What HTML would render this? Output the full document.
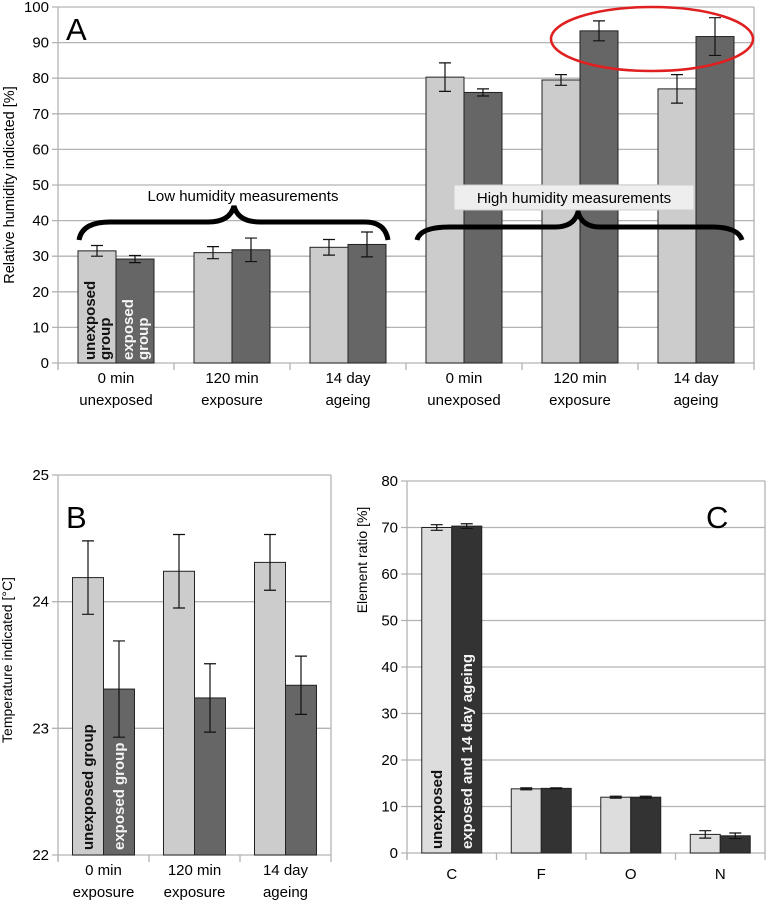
<!DOCTYPE html>
<html><head><meta charset="utf-8"><style>
html,body{margin:0;padding:0;background:#fff}
svg{display:block;font-family:"Liberation Sans",sans-serif}
</style></head><body>
<svg id="s" width="767" height="910" viewBox="0 0 767 910"></svg>
<script>
// Chart A data
const aCategories=[["0 min","unexposed"],["120 min","exposure"],["14 day","ageing"],["0 min","unexposed"],["120 min","exposure"],["14 day","ageing"]];
const aUnexposed=[31.5,31,32.5,80.3,79.5,77];
const aUnexposedErr=[1.5,1.7,2.2,4,1.5,4];
const aExposed=[29.2,31.8,33.3,76,93.3,91.7];
const aExposedErr=[1,3.3,3.5,1,2.8,5.3];
const aTicks=[0,10,20,30,40,50,60,70,80,90,100];
// Chart B data
const bCategories=[["0 min","exposure"],["120 min","exposure"],["14 day","ageing"]];
const bUnexposed=[24.19,24.24,24.31];
const bUnexposedErr=[0.29,0.29,0.22];
const bExposed=[23.31,23.24,23.34];
const bExposedErr=[0.38,0.27,0.23];
const bTicks=[22,23,24,25];
// Chart C data
const cCategories=["C","F","O","N"];
const cUnexposed=[70,13.8,12,4];
const cUnexposedErr=[0.6,0.2,0.2,0.8];
const cExposed=[70.3,13.9,12,3.7];
const cExposedErr=[0.5,0.1,0.2,0.6];
const cTicks=[0,10,20,30,40,50,60,70,80];

const NS="http://www.w3.org/2000/svg";
const svg=document.getElementById('s');
function mk(tag,attrs,parent,text){
  const e=document.createElementNS(NS,tag);
  for(const k in attrs)e.setAttribute(k,attrs[k]);
  if(text!==undefined)e.textContent=text;
  (parent||svg).appendChild(e);return e;
}
function chart(cfg){
  const g=mk('g',{});
  
  
  const y=v=>cfg.y0-(v-cfg.min)/(cfg.max-cfg.min)*(cfg.y0-cfg.y1);
  const n=cfg.cats.length, cw=(cfg.x1-cfg.x0)/n;
  cfg.ticks.forEach(t=>{
    const l=mk('line',{x1:cfg.x0-6,x2:cfg.x1,y1:y(t),y2:y(t),stroke:'#b3b3b3','stroke-width':1.3},g);
    
    
    const tx=mk('text',{x:cfg.x0-9,y:y(t)+5,'text-anchor':'end','font-size':15,fill:'#000'},g,t);
    
    
  });
  mk('line',{x1:cfg.x1,x2:cfg.x1,y1:cfg.y1,y2:cfg.y0,stroke:'#b3b3b3','stroke-width':1.3},g);
  mk('line',{x1:cfg.x0,x2:cfg.x0,y1:cfg.y1,y2:cfg.y0+6,stroke:'#b3b3b3','stroke-width':1.3},g);
  for(let i=0;i<=n;i++){
    mk('line',{x1:cfg.x0+i*cw,x2:cfg.x0+i*cw,y1:cfg.y0,y2:cfg.y0+7,stroke:'#b3b3b3','stroke-width':1.3},g);
  }
  const bw=cfg.bw;
  const series=[[cfg.s1,cfg.e1,cfg.c1,-bw],[cfg.s2,cfg.e2,cfg.c2,0]];
  cfg.cats.forEach((c,i)=>{
    const cx=cfg.x0+(i+0.5)*cw;
    series.forEach((s,k)=>{
      const v=s[0][i], e=s[1][i];
      const r=mk('rect',{x:cx+s[3],y:y(v),width:bw,height:cfg.y0-y(v),fill:s[2],stroke:'#222','stroke-width':1},g);
      
      
      const ex=cx+s[3]+bw/2;
      const eb=mk('path',{d:`M${ex},${y(v+e)}V${y(v-e)}M${ex-6},${y(v+e)}h12M${ex-6},${y(v-e)}h12`,stroke:'#111','stroke-width':1.2,fill:'none'},g);
      
      
    });
    const lines=Array.isArray(c)?c:[c];
    lines.forEach((ln,j)=>{
      const t=mk('text',{x:cx,y:cfg.y0+(lines.length>1?20:26)+j*22,'text-anchor':'middle','font-size':15,fill:'#000'},g,ln);
      
      
    });
  });
  const at=mk('text',{transform:`translate(${cfg.tx},${cfg.ty}) rotate(-90)`,'text-anchor':'middle','font-size':cfg.tfs||14,fill:'#000'},g,cfg.title);
  
  
  const pl=mk('text',{x:cfg.lx,y:cfg.ly,'font-size':31,fill:'#000'},g,cfg.letter);
  
  
  return {y,cw};
}
chart({name:'chart-a',x0:58,x1:754,y0:363,y1:7,min:0,max:100,cats:aCategories,ticks:aTicks,bw:38,
  s1:aUnexposed,e1:aUnexposedErr,s2:aExposed,e2:aExposedErr,c1:'#cccccc',c2:'#666666',
  title:'Relative humidity indicated [%]',tx:14,ty:185,tfs:14.5,letter:'A',lx:66,ly:40});
chart({name:'chart-b',x0:58,x1:331,y0:855,y1:475,min:22,max:25,cats:bCategories,ticks:bTicks,bw:31,
  s1:bUnexposed,e1:bUnexposedErr,s2:bExposed,e2:bExposedErr,c1:'#cccccc',c2:'#666666',
  title:'Temperature indicated [°C]',tx:12,ty:660,letter:'B',lx:66,ly:528});
chart({name:'chart-c',x0:407,x1:765,y0:853,y1:481,min:0,max:80,cats:cCategories,ticks:cTicks,bw:30,
  s1:cUnexposed,e1:cUnexposedErr,s2:cExposed,e2:cExposedErr,c1:'#dddddd',c2:'#333333',
  title:'Element ratio [%]',tx:367,ty:560,letter:'C',lx:706,ly:528});

function vtext(x,y,txt,fill,name,fs){
  const t=mk('text',{transform:`translate(${x},${y}) rotate(-90)`,'font-size':fs||15,'font-weight':'bold',fill:fill},svg,txt);
  
  
}
vtext(95,360,'unexposed','#111','legend-unexposed-a');
vtext(110,360,'group','#111','legend-unexposed-a2');
vtext(133,360,'exposed','#f4f4f4','legend-exposed-a');
vtext(148,360,'group','#f4f4f4','legend-exposed-a2');
vtext(93,850,'unexposed group','#111','legend-unexposed-b');
vtext(124,850,'exposed group','#f4f4f4','legend-exposed-b');
vtext(442,849,'unexposed','#111','legend-unexposed-c');
vtext(472,849,'exposed and 14 day ageing','#f4f4f4','legend-exposed-c');

let e=mk('path',{d:'M79,240 Q82,222 110,222 L208,222 Q230,222 234,206 Q238,222 260,222 L365,222 Q385,222 388,240',fill:'none',stroke:'#000','stroke-width':5});


e=mk('text',{x:243,y:201,'text-anchor':'middle','font-size':15,fill:'#000'},svg,'Low humidity measurements');


e=mk('path',{d:'M417,240 Q420,227 450,227 L555,227 Q574,227 578,212 Q582,227 600,227 L712,227 Q738,227 742,240',fill:'none',stroke:'#000','stroke-width':5});


e=mk('rect',{x:454,y:185,width:240,height:25,fill:'#eeeeee',stroke:'#cccccc','stroke-width':1});


e=mk('text',{x:574,y:203,'text-anchor':'middle','font-size':15,fill:'#000'},svg,'High humidity measurements');


e=mk('ellipse',{cx:652,cy:39,rx:101,ry:32,fill:'none',stroke:'#e02020','stroke-width':2.5});


</script>
</body></html>
